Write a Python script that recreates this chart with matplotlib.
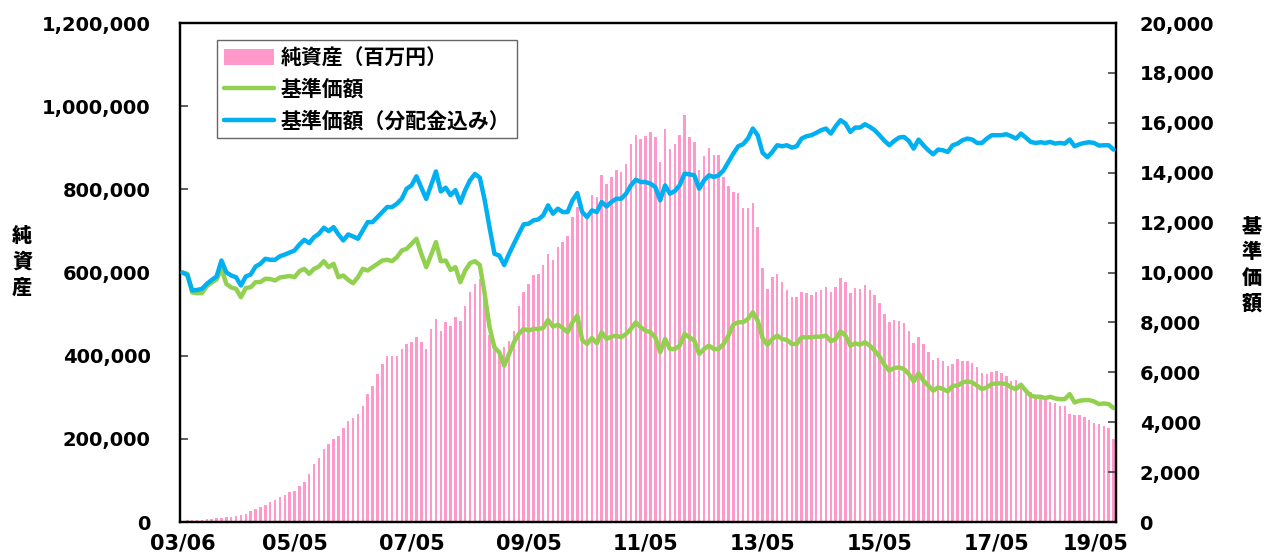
import numpy as np
import matplotlib
matplotlib.use("Agg")
import matplotlib.pyplot as plt
from matplotlib.font_manager import FontProperties
from matplotlib.patches import Patch
from matplotlib.lines import Line2D
from matplotlib.ticker import FuncFormatter, MultipleLocator
import matplotlib.transforms as mtrans

# ---------------- data (monthly, 2003/06 .. 2019/05) ----------------
x_tick_pos = [0, 23, 47, 71, 95, 119, 143, 167, 191]
x_tick_labels = ["03/06", "05/05", "07/05", "09/05", "11/05", "13/05", "15/05", "17/05", "19/05"]

# net assets in thousands of million yen (converted below)
net_assets_k = [
    3, 4, 5, 5, 6, 7, 8, 9, 10, 11,
    13, 15, 17, 20, 26, 31, 36, 41, 47, 54,
    60, 66, 72, 75, 87, 95, 115, 140, 155, 176,
    188, 200, 207, 227, 243, 251, 260, 280, 308, 328,
    356, 380, 400, 400, 400, 417, 429, 432, 444, 432,
    417, 465, 489, 460, 480, 472, 492, 484, 520, 553,
    573, 585, 540, 450, 415, 405, 420, 436, 460, 520,
    553, 573, 593, 597, 617, 645, 629, 661, 673, 687,
    733, 757, 745, 737, 786, 782, 834, 814, 830, 846,
    842, 860, 909, 930, 920, 928, 938, 926, 866, 946,
    898, 910, 930, 978, 926, 914, 846, 880, 900, 882,
    882, 830, 808, 794, 790, 756, 754, 768, 709, 610,
    561, 590, 597, 577, 559, 542, 541, 553, 551, 547,
    553, 557, 565, 553, 565, 587, 577, 551, 563, 561,
    571, 559, 547, 527, 499, 480, 486, 484, 478, 460,
    430, 446, 428, 408, 390, 395, 386, 376, 380, 392,
    388, 388, 382, 372, 358, 356, 361, 362, 358, 352,
    338, 341, 326, 315, 312, 306, 300, 298, 288, 286,
    279, 278, 260, 258, 257, 252, 246, 239, 236, 231,
    225, 200,
]

nav_total = [
    10000, 9900, 9280, 9300, 9345, 9545, 9700, 9840, 10480, 10010,
    9880, 9810, 9480, 9840, 9920, 10240, 10350, 10550, 10510, 10510,
    10650, 10720, 10800, 10883, 11124, 11311, 11178, 11418, 11553, 11793,
    11660, 11820, 11526, 11285, 11526, 11446, 11352, 11686, 12020, 12020,
    12222, 12422, 12623, 12623, 12758, 12958, 13360, 13494, 13855, 13400,
    12950, 13500, 14050, 13250, 13400, 13100, 13300, 12800, 13300, 13700,
    13950, 13800, 12900, 11800, 10750, 10680, 10300, 10750, 11150, 11550,
    11930, 11955, 12088, 12128, 12289, 12690, 12356, 12557, 12423, 12423,
    12891, 13186, 12423, 12222, 12490, 12423, 12825, 12650, 12825, 12958,
    12958, 13159, 13494, 13721, 13627, 13627, 13560, 13427, 12891, 13494,
    13159, 13266, 13494, 13962, 13935, 13895, 13360, 13695, 13895, 13828,
    13895, 14096, 14431, 14765, 15060, 15140, 15368, 15770, 15502, 14800,
    14620, 14832, 15100, 15060, 15100, 15006, 15060, 15368, 15462, 15502,
    15595, 15702, 15770, 15568, 15863, 16104, 15970, 15635, 15809, 15809,
    15943, 15836, 15702, 15500, 15280, 15100, 15274, 15408, 15435, 15274,
    14966, 15328, 15100, 14899, 14738, 14926, 14899, 14832, 15100, 15167,
    15301, 15368, 15328, 15193, 15193, 15368, 15502, 15502, 15502, 15542,
    15462, 15368, 15568, 15408, 15234, 15193, 15220, 15193, 15234, 15167,
    15193, 15167, 15328, 15060, 15140, 15193, 15220, 15193, 15087, 15100,
    15100, 14926,
]

nav = [
    10000, 9950, 9200, 9170, 9180, 9450, 9600, 9720, 10147, 9545,
    9400, 9344, 9009, 9380, 9411, 9612, 9620, 9750, 9740, 9680,
    9800, 9830, 9860, 9812, 10054, 10147, 9946, 10147, 10241, 10455,
    10214, 10348, 9812, 9879, 9705, 9571, 9812, 10147, 10080, 10214,
    10348, 10482, 10509, 10455, 10616, 10883, 10950, 11151, 11352, 10750,
    10214, 10700, 11218, 10450, 10482, 10100, 10214, 9612, 10080, 10375,
    10455, 10300, 9143, 7805, 7000, 6800, 6265, 6733, 7203, 7537,
    7738, 7671, 7738, 7738, 7778, 8099, 7831, 7912, 7778, 7604,
    8005, 8273, 7296, 7135, 7376, 7162, 7604, 7336, 7430, 7470,
    7403, 7537, 7738, 8005, 7805, 7671, 7604, 7403, 6800, 7336,
    6935, 6935, 7068, 7537, 7403, 7270, 6733, 6935, 7068, 6935,
    6935, 7135, 7470, 7912, 8005, 8005, 8140, 8407, 8072, 7370,
    7100, 7336, 7470, 7336, 7296, 7135, 7135, 7403, 7403, 7403,
    7430, 7430, 7470, 7243, 7336, 7644, 7470, 7068, 7162, 7108,
    7203, 7068, 6868, 6630, 6300, 6064, 6171, 6198, 6131, 5930,
    5636, 5957, 5663, 5462, 5261, 5395, 5328, 5234, 5462, 5462,
    5596, 5636, 5596, 5462, 5328, 5395, 5529, 5556, 5556, 5529,
    5395, 5328, 5502, 5261, 5060, 5020, 5020, 4967, 5020, 4953,
    4926, 4926, 5127, 4792, 4859, 4886, 4886, 4832, 4725, 4752,
    4725, 4565,
]

legend_labels = ["純資産（百万円）", "基準価額", "基準価額（分配金込み）"]
left_title = "純資産"
right_title = "基準価額"

# ---------------- drawing ----------------
plt.rcParams["font.family"] = ["DejaVu Sans", "Noto Sans CJK JP"]
cjk = "Noto Sans CJK JP"

PINK = "#FF99CC"
GREEN = "#92D050"
BLUE = "#00B0F0"

idx = np.arange(len(net_assets_k))
assets = np.array(net_assets_k) * 1000.0

fig = plt.figure(figsize=(12.71, 5.53), dpi=100)
ax = fig.add_axes([180 / 1271, 1 - 522 / 553, 936 / 1271, 499 / 553])
ax2 = ax.twinx()

ax.bar(idx, assets, width=0.5, color=PINK, linewidth=0, zorder=1)
ax2.plot(idx, nav, color=GREEN, lw=3.2, solid_joinstyle="round", solid_capstyle="round", zorder=2)
ax2.plot(idx, nav_total, color=BLUE, lw=3.2, solid_joinstyle="round", solid_capstyle="round", zorder=3)

ax.set_xlim(-0.5, len(idx) - 0.5)
ax.set_ylim(0, 1200000)
ax2.set_ylim(0, 20000)
ax.yaxis.set_major_locator(MultipleLocator(200000))
ax2.yaxis.set_major_locator(MultipleLocator(2000))
fmt = FuncFormatter(lambda v, p: f"{int(round(v)):,}")
ax.yaxis.set_major_formatter(fmt)
ax2.yaxis.set_major_formatter(fmt)

ax.tick_params(axis="y", direction="in", length=6, width=1.2, color="#404040",
               labelsize=14, pad=21)
ax2.tick_params(axis="y", direction="in", length=6, width=1.2, color="#404040",
                labelsize=14, pad=17)
for lab in ax.get_yticklabels() + ax2.get_yticklabels():
    lab.set_fontweight("bold")

ax.set_xticks(x_tick_pos)
ax.set_xticklabels(x_tick_labels)
ax.tick_params(axis="x", length=0, pad=8)
for lab in ax.get_xticklabels():
    lab.set_fontproperties(FontProperties(family=["Liberation Sans Narrow", "DejaVu Sans"],
                                          weight="bold", size=15))
last = ax.get_xticklabels()[-1]
last.set_transform(last.get_transform() + mtrans.ScaledTranslation(-18 / 100, 0, fig.dpi_scale_trans))

for a in (ax, ax2):
    for s in a.spines.values():
        s.set_color("black")
        s.set_linewidth(1.6)

# axis titles (vertical stacked characters)
fig.text(22 / 1271, 1 - 262 / 553, "\n".join(left_title), ha="center", va="center",
         family=cjk, weight="heavy", fontsize=14.5, linespacing=1.35)
fig.text(1252 / 1271, 1 - 265 / 553, "\n".join(right_title), ha="center", va="center",
         family=cjk, weight="heavy", fontsize=14.5, linespacing=1.35)

handles = [
    Patch(facecolor=PINK, edgecolor="none"),
    Line2D([], [], color=GREEN, lw=3.2, solid_capstyle="round"),
    Line2D([], [], color=BLUE, lw=3.2, solid_capstyle="round"),
]
leg = ax2.legend(handles, legend_labels, loc="upper left",
                 bbox_to_anchor=((217 - 180) / 936, (522 - 40) / 499),
                 borderaxespad=0, frameon=True, fancybox=False,
                 prop=FontProperties(family=cjk, weight="bold", size=15),
                 handlelength=2.4, handleheight=0.75, handletextpad=0.3,
                 labelspacing=0.5, borderpad=0.35)
leg.get_frame().set_edgecolor("#404040")
leg.get_frame().set_linewidth(1.0)

fig.savefig("out.png", dpi=100)
